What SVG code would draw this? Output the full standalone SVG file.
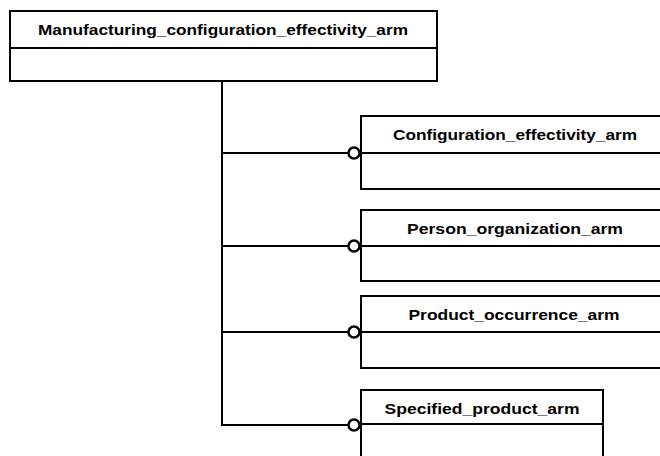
<svg xmlns="http://www.w3.org/2000/svg" width="660" height="456" viewBox="0 0 660 456">
<style>
.box{fill:#fff;stroke:#000;stroke-width:2}
.div{stroke:#000;stroke-width:2}
.lbl{font-family:"Liberation Sans",Arial,sans-serif;font-weight:bold;font-size:15px;text-anchor:middle;fill:#000}
.con{fill:none;stroke:#000;stroke-width:2}
.cir{fill:#fff;stroke:#000;stroke-width:2.5}
</style>
<rect width="660" height="456" fill="#fff"/>
<g id="connectors">
<path class="con" d="M222 81 V425 H361 M222 153 H348 M222 246 H348 M222 332 H348"/>
<circle class="cir" cx="354" cy="153" r="5.5"/>
<circle class="cir" cx="354" cy="246" r="5.5"/>
<circle class="cir" cx="354" cy="332" r="5.5"/>
<circle class="cir" cx="354" cy="425" r="5.5"/>
</g>
<g id="node-main">
<rect class="box" x="10" y="11" width="427" height="70"/>
<line class="div" x1="10" y1="48" x2="437" y2="48"/>
<text class="lbl" x="223" y="35" textLength="370" lengthAdjust="spacingAndGlyphs">Manufacturing_configuration_effectivity_arm</text>
</g>
<g id="node-config">
<rect class="box" x="361" y="116" width="310" height="73"/>
<line class="div" x1="361" y1="153" x2="671" y2="153"/>
<text class="lbl" x="515" y="140" textLength="244" lengthAdjust="spacingAndGlyphs">Configuration_effectivity_arm</text>
</g>
<g id="node-person">
<rect class="box" x="361" y="210" width="310" height="71"/>
<line class="div" x1="361" y1="246" x2="671" y2="246"/>
<text class="lbl" x="515" y="234" textLength="216" lengthAdjust="spacingAndGlyphs">Person_organization_arm</text>
</g>
<g id="node-product">
<rect class="box" x="361" y="296" width="310" height="72"/>
<line class="div" x1="361" y1="332" x2="671" y2="332"/>
<text class="lbl" x="514" y="320" textLength="211" lengthAdjust="spacingAndGlyphs">Product_occurrence_arm</text>
</g>
<g id="node-specified">
<rect class="box" x="361" y="390" width="242" height="80"/>
<line class="div" x1="361" y1="424" x2="603" y2="424"/>
<text class="lbl" x="482" y="414" textLength="195" lengthAdjust="spacingAndGlyphs">Specified_product_arm</text>
</g>
</svg>
